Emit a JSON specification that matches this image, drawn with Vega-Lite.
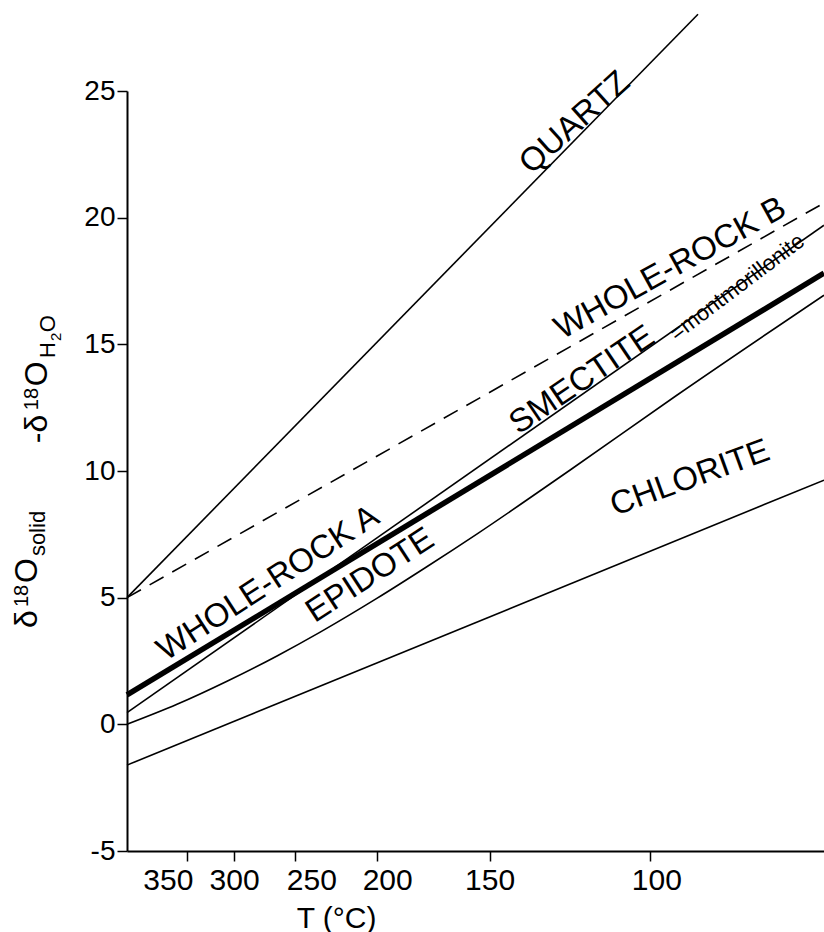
{
  "$schema": "https://vega.github.io/schema/vega-lite/v6.json",
  "width": 697,
  "height": 760,
  "autosize": {"type": "none"},
  "padding": {"left": 127, "top": 91, "right": 0, "bottom": 81},
  "background": "white",
  "config": {"view": {"stroke": null}, "font": "Liberation Sans"},
  "datasets": {
    "lines": [
      {"series": "Quartz", "v": 1.9801, "d": 5.0},
      {"series": "Quartz", "v": 7.6561, "d": 28.03},
      {"series": "WholeRockB", "v": 1.9801, "d": 5.0},
      {"series": "WholeRockB", "v": 8.9085, "d": 20.58},
      {"series": "Smectite", "v": 1.9801, "d": 0.46},
      {"series": "Smectite", "v": 8.9085, "d": 19.70},
      {"series": "WholeRockA", "v": 1.9801, "d": 1.16},
      {"series": "WholeRockA", "v": 8.9085, "d": 17.81},
      {"series": "Epidote", "v": 1.9801, "d": 0.0},
      {"series": "Epidote", "v": 2.4771, "d": 0.79},
      {"series": "Epidote", "v": 2.9742, "d": 1.70},
      {"series": "Epidote", "v": 3.4712, "d": 2.70},
      {"series": "Epidote", "v": 3.9006, "d": 3.64},
      {"series": "Epidote", "v": 4.4632, "d": 4.97},
      {"series": "Epidote", "v": 4.9603, "d": 6.22},
      {"series": "Epidote", "v": 5.4573, "d": 7.51},
      {"series": "Epidote", "v": 6.3817, "d": 10.03},
      {"series": "Epidote", "v": 7.4453, "d": 12.99},
      {"series": "Epidote", "v": 8.9085, "d": 16.94},
      {"series": "Chlorite", "v": 1.9801, "d": -1.61},
      {"series": "Chlorite", "v": 8.9085, "d": 9.64}
    ],
    "ytitle": [
      {"t": "δ", "v": 1.0855, "d": 3.80, "role": "main"},
      {"t": "18", "v": 1.0855, "d": 4.63, "role": "sup"},
      {"t": "O", "v": 1.0855, "d": 5.58, "role": "main"},
      {"t": "solid", "v": 1.0855, "d": 6.64, "role": "sub"},
      {"t": "-δ", "v": 1.1849, "d": 11.10, "role": "main"},
      {"t": "18", "v": 1.1849, "d": 12.40, "role": "sup"},
      {"t": "O", "v": 1.1849, "d": 13.35, "role": "main"},
      {"t": "H", "v": 1.1849, "d": 14.46, "role": "sub"},
      {"t": "2", "v": 1.1849, "d": 15.13, "role": "subsub"},
      {"t": "O", "v": 1.1849, "d": 15.48, "role": "sub"}
    ]
  },
  "encoding": {
    "x": {
      "field": "v", "type": "quantitative",
      "scale": {"domain": [1.9801, 8.9085], "nice": false, "zero": false},
      "axis": {
        "values": [2.5752, 3.0441, 3.6538, 4.4669, 5.5848, 7.1818],
        "labelExpr": "format(round(1000/sqrt(datum.value)-273.15),'d')",
        "grid": false,
        "domainColor": "black", "domainWidth": 2,
        "tickColor": "black", "tickWidth": 1.5, "tickSize": 10,
        "labelFontSize": 30, "labelFont": "Liberation Sans", "labelColor": "black",
        "labelPadding": 4, "labelOverlap": false, "labelFlush": false,
        "labelOffset": {
          "condition": [
            {"test": "datum.value < 2.7", "value": -19},
            {"test": "datum.value > 3.5 && datum.value < 3.8", "value": 16},
            {"test": "datum.value > 4.3 && datum.value < 4.6", "value": 10},
            {"test": "datum.value > 7", "value": 6}
          ],
          "value": 0
        },
        "title": "T (°C)", "titleFontSize": 30, "titleFont": "Liberation Sans",
        "titleFontWeight": "normal", "titleColor": "black",
        "titleX": 209, "titleY": 76, "titleAlign": "center", "titleBaseline": "alphabetic"
      }
    },
    "y": {
      "field": "d", "type": "quantitative",
      "scale": {"domain": [-5, 25], "nice": false, "zero": false},
      "axis": {
        "values": [-5, 0, 5, 10, 15, 20, 25],
        "labelExpr": "datum.value < 0 ? '-' + abs(datum.value) : '' + datum.value",
        "grid": false, "title": null,
        "domainColor": "black", "domainWidth": 2,
        "tickColor": "black", "tickWidth": 1.5, "tickSize": 10,
        "labelFontSize": 28, "labelFont": "Liberation Sans", "labelColor": "black",
        "labelPadding": 2
      }
    }
  },
  "layer": [
    {
      "data": {"name": "lines"},
      "transform": [{"filter": "datum.series == 'Quartz' || datum.series == 'Smectite' || datum.series == 'Chlorite'"}],
      "mark": {"type": "line", "color": "black", "strokeWidth": 1.6, "clip": false},
      "encoding": {"detail": {"field": "series", "type": "nominal"}}
    },
    {
      "data": {"name": "lines"},
      "transform": [{"filter": "datum.series == 'Epidote'"}],
      "mark": {"type": "line", "color": "black", "strokeWidth": 1.6, "interpolate": "monotone"},
      "encoding": {}
    },
    {
      "data": {"name": "lines"},
      "transform": [{"filter": "datum.series == 'WholeRockB'"}],
      "mark": {"type": "line", "color": "black", "strokeWidth": 1.6, "strokeDash": [16, 10]},
      "encoding": {}
    },
    {
      "data": {"name": "lines"},
      "transform": [{"filter": "datum.series == 'WholeRockA'"}],
      "mark": {"type": "line", "color": "black", "strokeWidth": 5.5},
      "encoding": {}
    },
    {
      "data": {"values": [
        {"label": "WHOLE-ROCK A", "v": 3.382, "d": 5.57},
        {"label": "EPIDOTE", "v": 4.396, "d": 5.88}
      ]},
      "mark": {"type": "text", "angle": 327, "fontSize": 33, "font": "Liberation Sans", "color": "black", "align": "center", "baseline": "middle"},
      "encoding": {"text": {"field": "label"}}
    },
    {
      "data": {"values": [{"label": "SMECTITE", "v": 6.503, "d": 13.59}]},
      "mark": {"type": "text", "angle": 326, "fontSize": 33, "font": "Liberation Sans", "color": "black", "align": "center", "baseline": "middle"},
      "encoding": {"text": {"field": "label"}}
    },
    {
      "data": {"values": [{"label": "WHOLE-ROCK B", "v": 7.38, "d": 18.0}]},
      "mark": {"type": "text", "angle": 331, "fontSize": 33, "font": "Liberation Sans", "color": "black", "align": "center", "baseline": "middle"},
      "encoding": {"text": {"field": "label"}}
    },
    {
      "data": {"values": [{"label": "QUARTZ", "v": 6.43, "d": 23.75}]},
      "mark": {"type": "text", "angle": 318, "fontSize": 33, "font": "Liberation Sans", "color": "black", "align": "center", "baseline": "middle"},
      "encoding": {"text": {"field": "label"}}
    },
    {
      "data": {"values": [{"label": "CHLORITE", "v": 7.576, "d": 9.72}]},
      "mark": {"type": "text", "angle": 340, "fontSize": 33, "font": "Liberation Sans", "color": "black", "align": "center", "baseline": "middle"},
      "encoding": {"text": {"field": "label"}}
    },
    {
      "data": {"values": [{"label": "=montmorillonite", "v": 8.044, "d": 17.26}]},
      "mark": {"type": "text", "angle": 323, "fontSize": 22, "font": "Liberation Sans", "color": "black", "align": "center", "baseline": "middle"},
      "encoding": {"text": {"field": "label"}}
    },
    {
      "data": {"name": "ytitle"},
      "transform": [{"filter": "datum.role == 'main'"}],
      "mark": {"type": "text", "angle": 270, "fontSize": 32, "font": "Liberation Sans", "color": "black", "align": "left", "baseline": "alphabetic"},
      "encoding": {"text": {"field": "t"}}
    },
    {
      "data": {"name": "ytitle"},
      "transform": [{"filter": "datum.role == 'sup'"}],
      "mark": {"type": "text", "angle": 270, "fontSize": 20, "font": "Liberation Sans", "color": "black", "align": "left", "baseline": "alphabetic", "dy": -9},
      "encoding": {"text": {"field": "t"}}
    },
    {
      "data": {"name": "ytitle"},
      "transform": [{"filter": "datum.role == 'sub'"}],
      "mark": {"type": "text", "angle": 270, "fontSize": 22, "font": "Liberation Sans", "color": "black", "align": "left", "baseline": "alphabetic", "dy": 8},
      "encoding": {"text": {"field": "t"}}
    },
    {
      "data": {"name": "ytitle"},
      "transform": [{"filter": "datum.role == 'subsub'"}],
      "mark": {"type": "text", "angle": 270, "fontSize": 15, "font": "Liberation Sans", "color": "black", "align": "left", "baseline": "alphabetic", "dy": 14},
      "encoding": {"text": {"field": "t"}}
    }
  ]
}
